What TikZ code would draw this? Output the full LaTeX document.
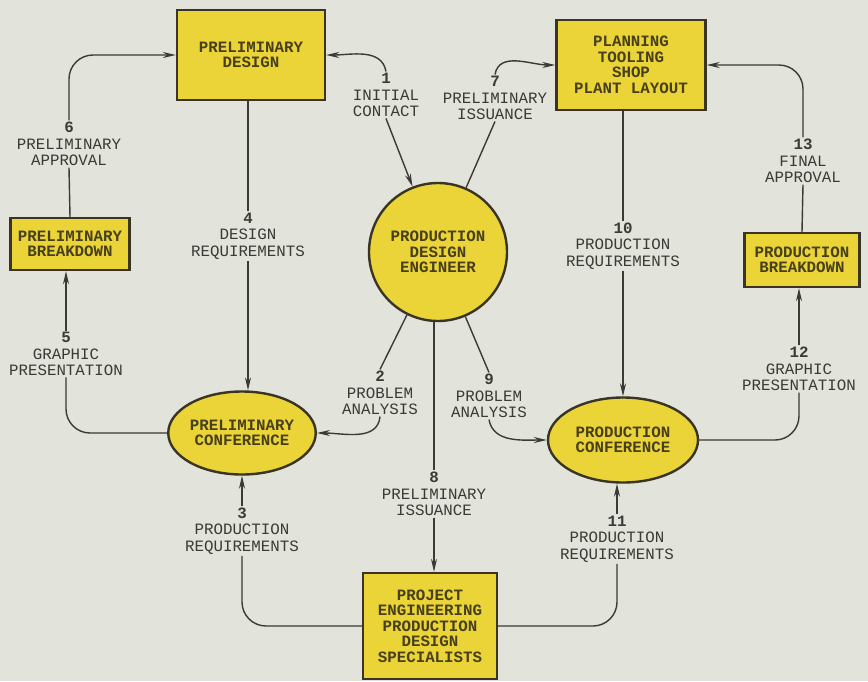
\documentclass[tikz,border=0pt]{standalone}
\usepackage{fontspec}
\setmonofont{Liberation Mono}
\usetikzlibrary{shapes.geometric,arrows.meta}
\definecolor{paper}{RGB}{226,227,219}
\definecolor{chart}{RGB}{234,212,56}
\definecolor{rim}{RGB}{58,52,36}
\definecolor{ink}{RGB}{58,58,54}
\definecolor{boxink}{RGB}{72,64,28}
\tikzset{
  box/.style={draw=rim,fill=chart,line width=2.4pt,inner sep=0pt,align=center,
    font=\ttfamily\bfseries\fontsize{15.8}{15.5}\selectfont,text=boxink},
  oval/.style={box,shape=ellipse},
  ring/.style={box,shape=circle},
  lbl/.style={align=center,inner sep=1.5pt,font=\ttfamily\fontsize{15.8}{16.5}\selectfont,text=ink},
  flow/.style={draw=ink,line width=1.4pt,rounded corners=24pt},
  tip/.style={flow,-{Stealth[length=13pt,width=6pt]}},
}
\begin{document}
\begin{tikzpicture}[x=1pt,y=-1pt]
   \path[fill=paper] (0,0) rectangle (868,681);
   \path (251,55) node[box,minimum width=148,minimum height=90] (PD) {PRELIMINARY\\DESIGN};
   \path (631,65) node[box,minimum width=149,minimum height=90] (PL) {PLANNING\\TOOLING\\SHOP\\PLANT LAYOUT};
   \path (70,244) node[box,minimum width=119,minimum height=52] (PB1) {PRELIMINARY\\BREAKDOWN};
   \path (802,260) node[box,minimum width=115,minimum height=54] (PB2) {PRODUCTION\\BREAKDOWN};
   \path (438,252) node[ring,minimum size=138] (PDE) {PRODUCTION\\DESIGN\\ENGINEER};
   \path (242,433) node[oval,minimum width=145,minimum height=83] (PC1) {PRELIMINARY\\CONFERENCE};
   \path (623,440) node[oval,minimum width=150,minimum height=85] (PC2) {PRODUCTION\\CONFERENCE};
   \path (430,626) node[box,minimum width=134,minimum height=106] (PRJ) {PROJECT\\ENGINEERING\\PRODUCTION\\DESIGN\\SPECIALISTS};

   \path (386,95) node[lbl] (L1) {\textbf{1}\\INITIAL\\CONTACT};
   \path (380,393) node[lbl] (L2) {\textbf{2}\\PROBLEM\\ANALYSIS};
   \path (242,531) node[lbl] (L3) {\textbf{3}\\PRODUCTION\\REQUIREMENTS};
   \path (248,236) node[lbl] (L4) {\textbf{4}\\DESIGN\\REQUIREMENTS};
   \path (66,354) node[lbl] (L5) {\textbf{5}\\GRAPHIC\\PRESENTATION};
   \path (69,144) node[lbl] (L6) {\textbf{6}\\PRELIMINARY\\APPROVAL};
   \path (495,98) node[lbl] (L7) {\textbf{7}\\PRELIMINARY\\ISSUANCE};
   \path (434,494) node[lbl] (L8) {\textbf{8}\\PRELIMINARY\\ISSUANCE};
   \path (489,396) node[lbl] (L9) {\textbf{9}\\PROBLEM\\ANALYSIS};
   \path (623,246) node[lbl] (L10) {\textbf{10}\\PRODUCTION\\REQUIREMENTS};
   \path (617,539) node[lbl] (L11) {\textbf{11}\\PRODUCTION\\REQUIREMENTS};
   \path (799,369) node[lbl] (L12) {\textbf{12}\\GRAPHIC\\PRESENTATION};
   \path (803,161) node[lbl] (L13) {\textbf{13}\\FINAL\\APPROVAL};

   \draw[tip] (L1.north) to[out=100,in=0] (PD.east);
   \draw[tip] (L1.south) -- (PDE);
   \draw[flow] (PDE) -- (L2.north);
   \draw[tip] (L2.south) to[out=-95,in=0] (PC1.east);
   \draw[flow] (PRJ.west) -| (L3.south);
   \draw[tip] (L3.north) -- (PC1.south);
   \draw[flow] (L4.north |- PD.south) -- (L4.north);
   \draw[tip] (L4.south) -- (L4.south |- PC1.north);
   \draw[flow] (PC1.west) -| (L5.south);
   \draw[tip] (L5.north) -- (L5.north |- PB1.south);
   \draw[flow] (PB1.north) -- (L6.south);
   \draw[tip] (L6.north) |- (PD.west);
   \draw[flow] (PDE) -- (L7.south);
   \draw[tip] (L7.north) to[out=80,in=180] (PL.west);
   \draw[flow] (PDE.south -| L8.north) -- (L8.north);
   \draw[tip] (L8.south) -- (L8.south |- PRJ.north);
   \draw[flow] (PDE) -- (L9.north);
   \draw[tip] (L9.south) to[out=-80,in=180] (PC2.west);
   \draw[flow] (L10.north |- PL.south) -- (L10.north);
   \draw[tip] (L10.south) -- (L10.south |- PC2.north);
   \draw[flow] (PRJ.east) -| (L11.south);
   \draw[tip] (L11.north) -- (L11.north |- PC2.south);
   \draw[flow] (PC2.east) -| (L12.south);
   \draw[tip] (L12.north) -- (L12.north |- PB2.south);
   \draw[flow] (PB2.north) -- (L13.south);
   \draw[tip] (L13.north) |- (PL.east);
\end{tikzpicture}
\end{document}
